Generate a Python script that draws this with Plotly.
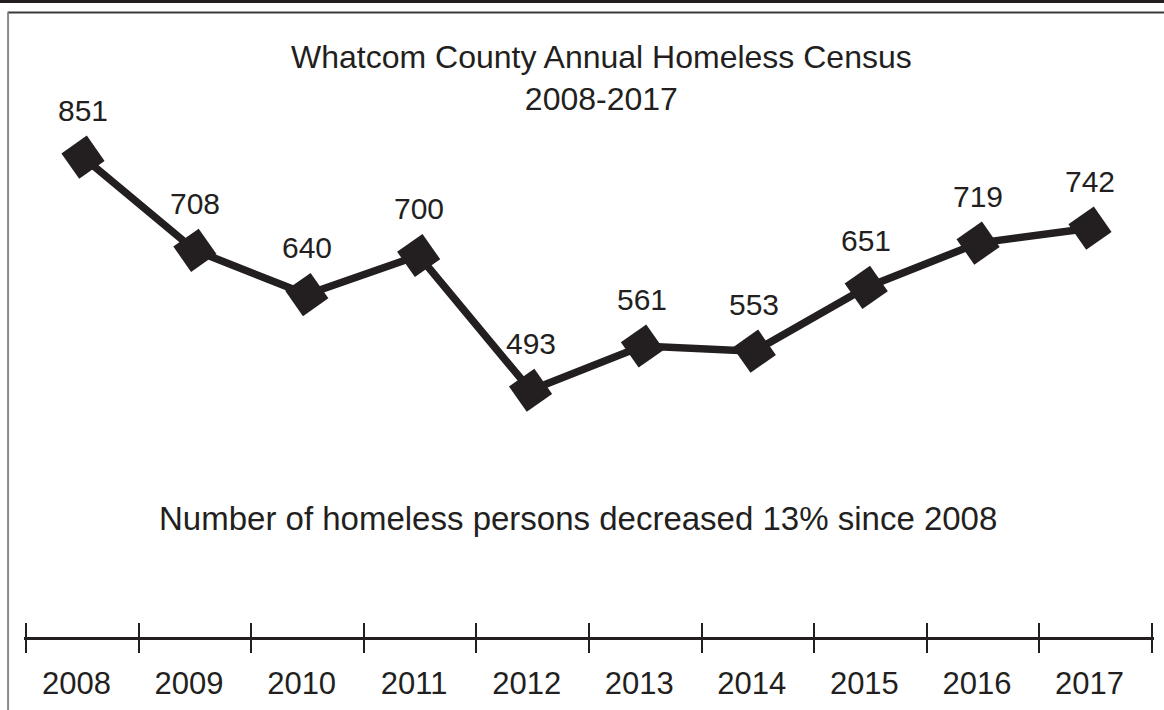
import plotly.graph_objects as go

years = ["2008", "2009", "2010", "2011", "2012", "2013", "2014", "2015", "2016", "2017"]
counts = [851, 708, 640, 700, 493, 561, 553, 651, 719, 742]
title_lines = ["Whatcom County Annual Homeless Census", "2008-2017"]
note = "Number of homeless persons decreased 13% since 2008"

INK = "#231f20"
FONT = "Liberation Sans, Arial, Helvetica, sans-serif"

fig = go.Figure()
# data trace (x: data axis, no ticks)
fig.add_trace(go.Scatter(
    x=years, y=counts, mode="lines+markers",
    line=dict(color=INK, width=7.5),
    marker=dict(symbol="square", size=31, angle=-35, color=INK, line=dict(width=0)),
    hoverinfo="x+y", showlegend=False,
))
# helper traces that carry the categories for the tick axes
fig.add_trace(go.Scatter(x=years, y=counts, xaxis="x2", mode="none",
                         hoverinfo="skip", showlegend=False))
fig.add_trace(go.Scatter(x=years, y=counts, xaxis="x3", mode="none",
                         hoverinfo="skip", showlegend=False))

for i, c in enumerate(counts):
    fig.add_annotation(x=i, y=c, xref="x", yref="y", text=str(c), showarrow=False,
                       yshift=47, font=dict(size=30, color=INK, family=FONT))

fig.add_annotation(xref="paper", yref="paper", x=0.5115, y=0.8966,
                   text="<br>".join(title_lines), showarrow=False,
                   xanchor="center", yanchor="middle",
                   font=dict(size=32, color=INK, family=FONT))
fig.add_annotation(xref="paper", yref="paper", x=0.4903, y=0.1907,
                   text=note, showarrow=False, xanchor="center", yanchor="middle",
                   font=dict(size=33, color=INK, family=FONT))

# frame lines
fig.add_shape(type="line", xref="paper", yref="paper", x0=-0.03, x1=1.01, y0=1.0184, y1=1.0184,
              line=dict(color=INK, width=3))
fig.add_shape(type="line", xref="paper", yref="paper", x0=-0.0145, x1=1.01, y0=1.0008, y1=1.0008,
              line=dict(color="#3a3a3a", width=2))
fig.add_shape(type="line", xref="paper", yref="paper", x0=-0.0141, x1=-0.0141, y0=1.0008, y1=-0.13,
              line=dict(color="#8a8a8a", width=2))

TICK_RANGE = [-0.52, 9.52]
fig.update_layout(
    width=1164, height=710,
    margin=dict(l=24, r=10, t=13, b=73),
    paper_bgcolor="white", plot_bgcolor="white",
    font=dict(family=FONT, color=INK),
    xaxis=dict(type="category", range=[-0.5273, 9.572], ticks="", showticklabels=False,
               showline=True, linecolor=INK, linewidth=2.5,
               showgrid=False, zeroline=False),
    xaxis2=dict(type="category", overlaying="x", side="bottom", anchor="y",
                tickson="boundaries", ticks="outside", ticklen=15,
                tickwidth=2, tickcolor=INK, showline=False,
                showgrid=False, zeroline=False, range=TICK_RANGE,
                ticklabelshift=-6, ticklabelstandoff=25,
                tickfont=dict(size=31, color=INK, family=FONT)),
    xaxis3=dict(type="category", overlaying="x", side="bottom", anchor="y",
                tickson="boundaries", ticks="inside", ticklen=14, tickwidth=2, tickcolor=INK,
                showticklabels=False, showline=False, showgrid=False, zeroline=False,
                range=TICK_RANGE),
    yaxis=dict(range=[114, 1072.5], visible=False, showgrid=False, zeroline=False),
)

fig.write_html("out.html")
